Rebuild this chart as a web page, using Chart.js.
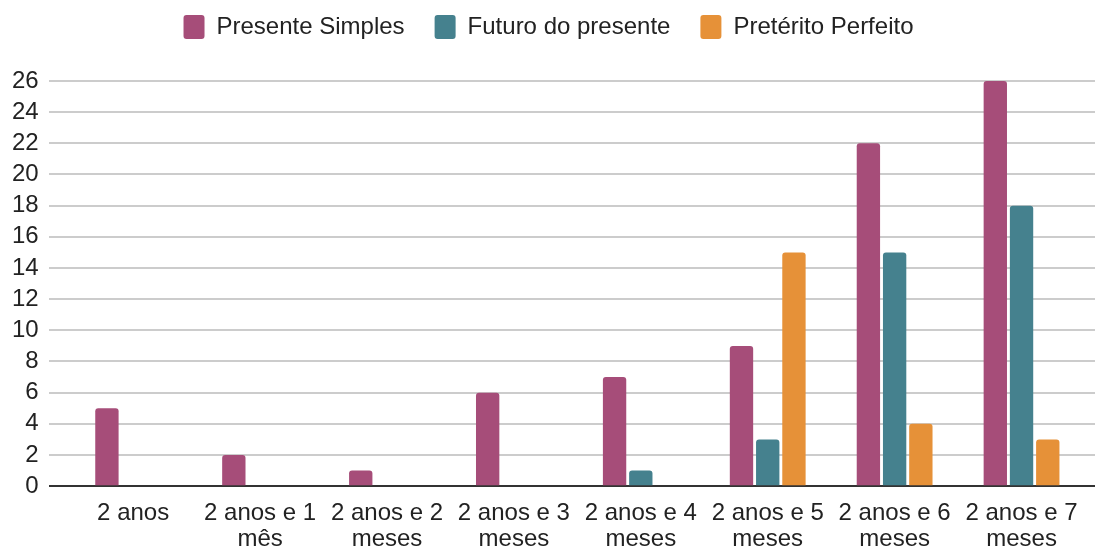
<!DOCTYPE html>
<html>
<head>
<meta charset="utf-8">
<script src="https://cdn.jsdelivr.net/npm/chart.js@4/dist/chart.umd.min.js"></script>
<style>
  html, body { margin: 0; padding: 0; background: #fff; }
</style>
</head>
<body>
<canvas id="chart" width="1095" height="548"></canvas>
<script>
const categories = [
    '2 anos',
    ['2 anos e 1', 'mês'],
    ['2 anos e 2', 'meses'],
    ['2 anos e 3', 'meses'],
    ['2 anos e 4', 'meses'],
    ['2 anos e 5', 'meses'],
    ['2 anos e 6', 'meses'],
    ['2 anos e 7', 'meses']
];
const presenteSimples = [5, 2, 1, 6, 7, 9, 22, 26];
const futuroPresente = [0, 0, 0, 0, 1, 3, 15, 18];
const preteritoPerfeito = [0, 0, 0, 0, 0, 15, 4, 3];

const font = { family: 'Arial, "Liberation Sans", sans-serif', size: 24, lineHeight: 1.17 };
const xFont = { family: 'Arial, "Liberation Sans", sans-serif', size: 24, lineHeight: 1.08 };

const ctx = document.getElementById('chart').getContext('2d');

function bar(label, data, color) {
    return {
        label: label,
        data: data,
        backgroundColor: color,
        borderColor: color,
        borderRadius: 3,
        borderSkipped: 'bottom',
        barPercentage: 0.89,
        categoryPercentage: 0.62
    };
}

// extra room under the legend
const legendGap = {
    id: 'legendGap',
    beforeInit(chart) {
        const fit = chart.legend.fit;
        chart.legend.fit = function () {
            fit.bind(chart.legend)();
            this.height += 32;
        };
    }
};

// categories sit a little inside the gridlines, like the original
const xInset = {
    id: 'xInset',
    afterLayout(chart) {
        const x = chart.scales.x;
        x.left += 21;
        x.right -= 10;
        x.configure();
    }
};

new Chart(ctx, {
    type: 'bar',
    data: {
        labels: categories,
        datasets: [
            bar('Presente Simples', presenteSimples, '#a64d79'),
            bar('Futuro do presente', futuroPresente, '#45818e'),
            bar('Pretérito Perfeito', preteritoPerfeito, '#e69138')
        ]
    },
    options: {
        responsive: false,
        animation: false,
        layout: { padding: { top: -15, left: 2, right: 0, bottom: -10 } },
        plugins: {
            legend: {
                labels: {
                    font: font,
                    color: '#222',
                    boxWidth: 21,
                    boxHeight: 24,
                    useBorderRadius: true,
                    borderRadius: 3,
                    padding: 30
                }
            },
            tooltip: { enabled: false }
        },
        scales: {
            x: {
                grid: { display: false },
                border: { display: false },
                ticks: { font: xFont, color: '#222', maxRotation: 0, autoSkip: false, padding: 6 }
            },
            y: {
                min: 0,
                max: 26,
                border: { display: false },
                grid: {
                    color: c => c.tick.value === 0 ? '#333' : '#cccccc',
                    lineWidth: 2,
                    drawTicks: false
                },
                ticks: { stepSize: 2, font: font, color: '#222', padding: 10 }
            }
        }
    },
    plugins: [legendGap, xInset]
});
</script>
</body>
</html>
